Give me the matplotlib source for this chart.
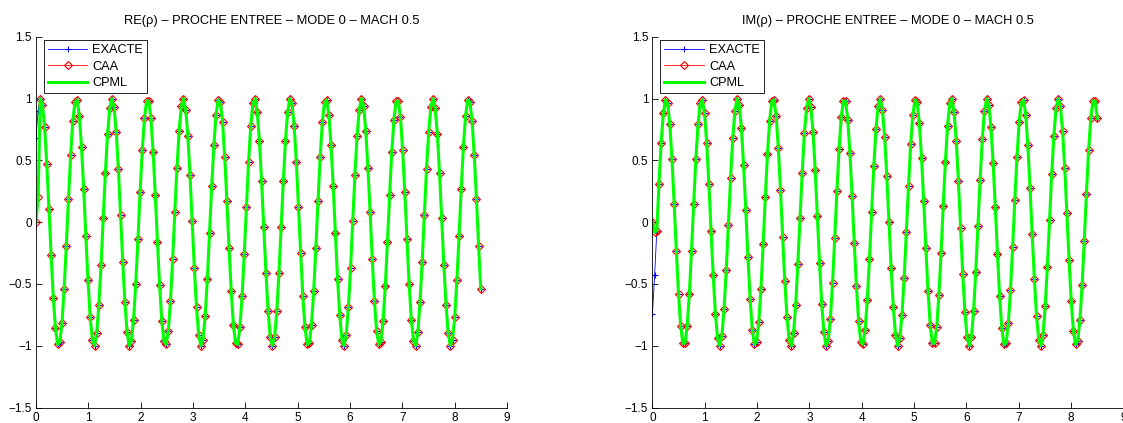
import numpy as np
from matplotlib import pyplot as plt

plt.rcParams["font.family"] = ["Liberation Sans", "DejaVu Sans"]

x_end = 8.5

exact_re = [
    0.68, 0.90, 1.00, 0.95, 0.77, 0.47, 0.11, -0.27, -0.61, -0.86, -0.99, -0.97, -0.82, -0.54, -0.19, 0.19,
    0.54, 0.82, 0.97, 0.99, 0.86, 0.61, 0.27, -0.11, -0.47, -0.77, -0.95, -1.00, -0.90, -0.67, -0.35, 0.03,
    0.40, 0.71, 0.92, 1.00, 0.93, 0.73, 0.43, 0.06, -0.32, -0.65, -0.89, -1.00, -0.96, -0.79, -0.50, -0.14,
    0.24, 0.58, 0.84, 0.98, 0.98, 0.84, 0.57, 0.22, -0.16, -0.51, -0.80, -0.96, -0.99, -0.88, -0.64, -0.30,
    0.08, 0.44, 0.74, 0.94, 1.00, 0.91, 0.70, 0.38, 0.01, -0.37, -0.69, -0.91, -1.00, -0.95, -0.76, -0.46,
    -0.09, 0.29, 0.62, 0.87, 0.99, 0.97, 0.81, 0.53, 0.17, -0.21, -0.56, -0.83, -0.98, -0.99, -0.85, -0.60,
    -0.26, 0.12, 0.49, 0.78, 0.96, 1.00, 0.89, 0.66, 0.33, -0.04, -0.41, -0.72, -0.93, -1.00, -0.93, -0.72,
    -0.41, -0.04, 0.33, 0.66, 0.89, 1.00, 0.96, 0.78, 0.49, 0.12, -0.25, -0.60, -0.85, -0.99, -0.98, -0.83,
    -0.56, -0.21, 0.17, 0.53, 0.81, 0.97, 0.99, 0.87, 0.62, 0.29, -0.09, -0.46, -0.75, -0.95, -1.00, -0.91,
    -0.69, -0.37, 0.01, 0.38, 0.70, 0.91, 1.00, 0.94, 0.74, 0.44, 0.08, -0.30, -0.64, -0.88, -0.99, -0.97,
    -0.80, -0.52, -0.16, 0.22, 0.57, 0.83, 0.98, 0.98, 0.85, 0.58, 0.24, -0.14, -0.50, -0.79, -0.96, -1.00,
    -0.89, -0.65, -0.32, 0.06, 0.43, 0.73, 0.93, 1.00, 0.92, 0.71, 0.40, 0.03, -0.35, -0.67, -0.90, -1.00,
    -0.95, -0.77, -0.47, -0.11, 0.27, 0.61, 0.86, 0.99, 0.97, 0.82, 0.54, 0.19, -0.19, -0.54,
]

exact_im = [
    -0.74, -0.43, -0.07, 0.31, 0.64, 0.88, 0.99, 0.96, 0.79, 0.51, 0.15, -0.23, -0.58, -0.84, -0.98, -0.98,
    -0.84, -0.58, -0.23, 0.15, 0.51, 0.79, 0.96, 0.99, 0.88, 0.64, 0.31, -0.07, -0.43, -0.74, -0.94, -1.00,
    -0.92, -0.70, -0.39, -0.02, 0.36, 0.68, 0.90, 1.00, 0.95, 0.76, 0.46, 0.10, -0.28, -0.62, -0.87, -0.99,
    -0.97, -0.81, -0.54, -0.18, 0.20, 0.55, 0.82, 0.98, 0.99, 0.86, 0.60, 0.26, -0.12, -0.48, -0.77, -0.95,
    -1.00, -0.90, -0.67, -0.34, 0.03, 0.40, 0.72, 0.92, 1.00, 0.93, 0.73, 0.42, 0.05, -0.33, -0.66, -0.89,
    -1.00, -0.96, -0.78, -0.49, -0.13, 0.25, 0.59, 0.85, 0.98, 0.98, 0.83, 0.56, 0.21, -0.17, -0.52, -0.80,
    -0.97, -0.99, -0.87, -0.63, -0.30, 0.08, 0.45, 0.75, 0.94, 1.00, 0.91, 0.69, 0.37, 0.00, -0.37, -0.69,
    -0.91, -1.00, -0.94, -0.75, -0.45, -0.08, 0.29, 0.63, 0.87, 0.99, 0.97, 0.80, 0.52, 0.17, -0.21, -0.56,
    -0.83, -0.98, -0.98, -0.85, -0.59, -0.25, 0.13, 0.49, 0.78, 0.96, 1.00, 0.89, 0.66, 0.33, -0.05, -0.42,
    -0.73, -0.93, -1.00, -0.93, -0.72, -0.40, -0.03, 0.34, 0.67, 0.90, 1.00, 0.95, 0.77, 0.48, 0.12, -0.26,
    -0.60, -0.86, -0.99, -0.98, -0.82, -0.55, -0.20, 0.18, 0.53, 0.81, 0.97, 0.99, 0.87, 0.62, 0.28, -0.10,
    -0.46, -0.76, -0.95, -1.00, -0.91, -0.68, -0.36, 0.02, 0.39, 0.70, 0.92, 1.00, 0.94, 0.74, 0.44, 0.07,
    -0.31, -0.64, -0.88, -0.99, -0.96, -0.79, -0.51, -0.15, 0.23, 0.58, 0.84, 0.98, 0.98, 0.84,
]

# numerical solutions start from zero at the inlet, then follow the exact one
caa_re = [0.0, 0.20] + exact_re[2:]
caa_im = [0.0, -0.08] + exact_im[2:]
cpml_re = caa_re
cpml_im = caa_im

panels = [
    ("RE(ρ) – PROCHE ENTREE – MODE 0 – MACH 0.5", exact_re, caa_re, cpml_re),
    ("IM(ρ) – PROCHE ENTREE – MODE 0 – MACH 0.5", exact_im, caa_im, cpml_im),
]
x_ticks = list(range(10))
y_ticks = [-1.5, -1, -0.5, 0, 0.5, 1, 1.5]
y_ticklabels = ["\u22121.5", "\u22121", "\u22120.5", "0", "0.5", "1", "1.5"]

fig = plt.figure(figsize=(11.23, 4.23), dpi=100)
lefts = [0.032, 0.581]

for left, (title, ex, caa, cpml) in zip(lefts, panels):
    ax = fig.add_axes([left, 0.0366, 0.4194, 0.8766])
    x = np.linspace(0, x_end, len(ex))
    ax.plot(x, ex, color="blue", lw=0.6, marker="+", ms=4.5, mew=0.8, label="EXACTE")
    ax.plot(x, caa, color="red", lw=0.6, marker="D", ms=4.2, mfc="none", mew=0.8,
            label="CAA")
    ax.plot(x, cpml, color="#00ff00", lw=2.2, label="CPML")

    ax.set_xlim(0, 9)
    ax.set_ylim(-1.5, 1.5)
    ax.set_xticks(x_ticks)
    ax.set_yticks(y_ticks)
    ax.set_yticklabels(y_ticklabels)
    ax.tick_params(direction="in", length=4, width=0.6, labelsize=8.5, pad=3)
    for side in ("top", "right"):
        ax.spines[side].set_visible(False)
    for side in ("left", "bottom"):
        ax.spines[side].set_linewidth(0.6)
    ax.set_title(title, fontsize=9.3, pad=9)

    leg = ax.legend(loc="upper left", bbox_to_anchor=(0.017, 0.99), fontsize=9.2,
                    handlelength=3.1, handletextpad=0.4, labelspacing=0.35,
                    borderpad=0.3, borderaxespad=0.0, fancybox=False,
                    framealpha=1, edgecolor="black")
    leg.get_frame().set_linewidth(0.6)

fig.savefig("out.png", dpi=100)
